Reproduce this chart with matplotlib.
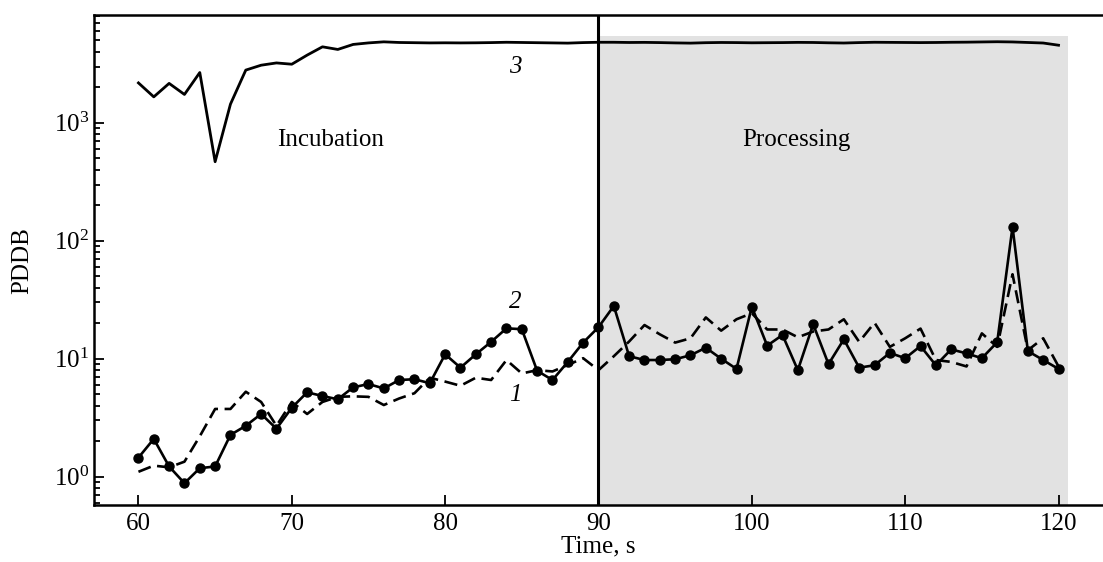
import numpy as np
import matplotlib.pyplot as plt

# Data
time = list(range(60, 121))

# curve 1 (dashed)
pddb1 = [1.10, 1.24, 1.20, 1.34, 2.2, 3.75, 3.75, 5.25, 4.3, 2.7,
         4.3, 3.4, 4.3, 4.75, 4.8, 4.75, 4.05, 4.6, 5.1, 6.9,
         6.4, 5.9, 6.9, 6.6, 9.75, 7.5, 8.0, 7.8, 8.85, 10.1,
         8.0, 10.5, 14.0, 19.3, 16.1, 13.7, 14.9, 22.4, 17.3, 21.6,
         24.3, 17.7, 17.7, 15.2, 17.0, 17.7, 21.6, 13.9, 20.2, 12.6,
         14.9, 18.0, 9.75, 9.4, 8.6, 16.4, 12.6, 52.0, 11.8, 14.9,
         8.6]

# curve 2 (solid with dots)
pddb2 = [1.45, 2.09, 1.22, 0.88, 1.18, 1.22, 2.26, 2.70, 3.40, 2.55,
         3.84, 5.19, 4.83, 4.53, 5.72, 6.1, 5.6, 6.6, 6.7, 6.2,
         10.9, 8.4, 10.9, 13.9, 18.1, 17.8, 7.9, 6.6, 9.4, 13.7,
         18.5, 28.0, 10.5, 9.75, 9.75, 9.9, 10.7, 12.4, 10.0, 8.2,
         27.6, 12.9, 15.9, 8.0, 19.6, 9.0, 14.6, 8.4, 8.8, 11.2,
         10.1, 12.8, 8.8, 12.0, 11.1, 10.1, 13.8, 131.0, 11.6, 9.75,
         8.2]

# curve 3 (solid, top)
pddb3 = [2180, 1660, 2160, 1740, 2670, 468, 1440, 2800, 3080, 3220,
         3140, 3750, 4410, 4190, 4620, 4760, 4860, 4800, 4780, 4760,
         4770, 4760, 4770, 4790, 4820, 4800, 4780, 4760, 4740, 4790,
         4820, 4820, 4800, 4810, 4790, 4760, 4740, 4780, 4800, 4790,
         4770, 4780, 4790, 4810, 4800, 4770, 4750, 4790, 4820, 4810,
         4800, 4790, 4800, 4820, 4830, 4850, 4870, 4850, 4800, 4750,
         4550]

stages = ["Incubation", "Processing"]

plt.rcParams['font.family'] = ['Liberation Serif', 'DejaVu Serif']
plt.rcParams['mathtext.fontset'] = 'custom'
plt.rcParams['mathtext.rm'] = 'Liberation Serif'
plt.rcParams['mathtext.it'] = 'Liberation Serif:italic'
plt.rcParams['font.size'] = 18

fig = plt.figure(figsize=(11.03, 5.62), dpi=100)
ax = fig.add_axes([0.0852, 0.1014, 0.9148, 0.8716])

# processing zone
ax.fill_between([90, 120.65], 0.575, 5430, color='#e2e2e2', zorder=0, lw=0)
ax.axvline(90, color='black', lw=2.2, zorder=1)

ax.plot(time, pddb1, color='black', lw=1.9, ls=(0, (5, 2.5)), zorder=3)
ax.plot(time, pddb2, color='black', lw=1.9, marker='o', ms=6.5, zorder=4)
ax.plot(time, pddb3, color='black', lw=2.0, zorder=3)

ax.set_yscale('log')
ax.set_xlim(57.1, 122.9)
ax.set_ylim(0.575, 8180)
ax.set_xticks([60, 70, 80, 90, 100, 110, 120])
ax.set_yticks([1, 10, 100, 1000])

ax.tick_params(which='both', direction='in', width=1.3)
ax.tick_params(which='major', length=7, labelsize=18)
ax.tick_params(which='minor', length=4)
ax.tick_params(axis='x', which='minor', bottom=False)
ax.tick_params(axis='x', pad=6)

for s in ['left', 'bottom', 'top']:
    ax.spines[s].set_linewidth(1.8)
ax.spines['right'].set_visible(False)

ax.set_xlabel('Time, s', fontsize=18, labelpad=0)
ax.set_ylabel('PDDB', fontsize=18, labelpad=15)

ax.text(72.5, 712, stages[0], ha='center', va='center', fontsize=18)
ax.text(102.9, 712, stages[1], ha='center', va='center', fontsize=18)

ax.text(84.6, 4.9, '1', style='italic', ha='center', va='center', fontsize=18)
ax.text(84.6, 30.4, '2', style='italic', ha='center', va='center', fontsize=18)
ax.text(84.6, 2960, '3', style='italic', ha='center', va='center', fontsize=18)

fig.savefig('out.png', dpi=100)
